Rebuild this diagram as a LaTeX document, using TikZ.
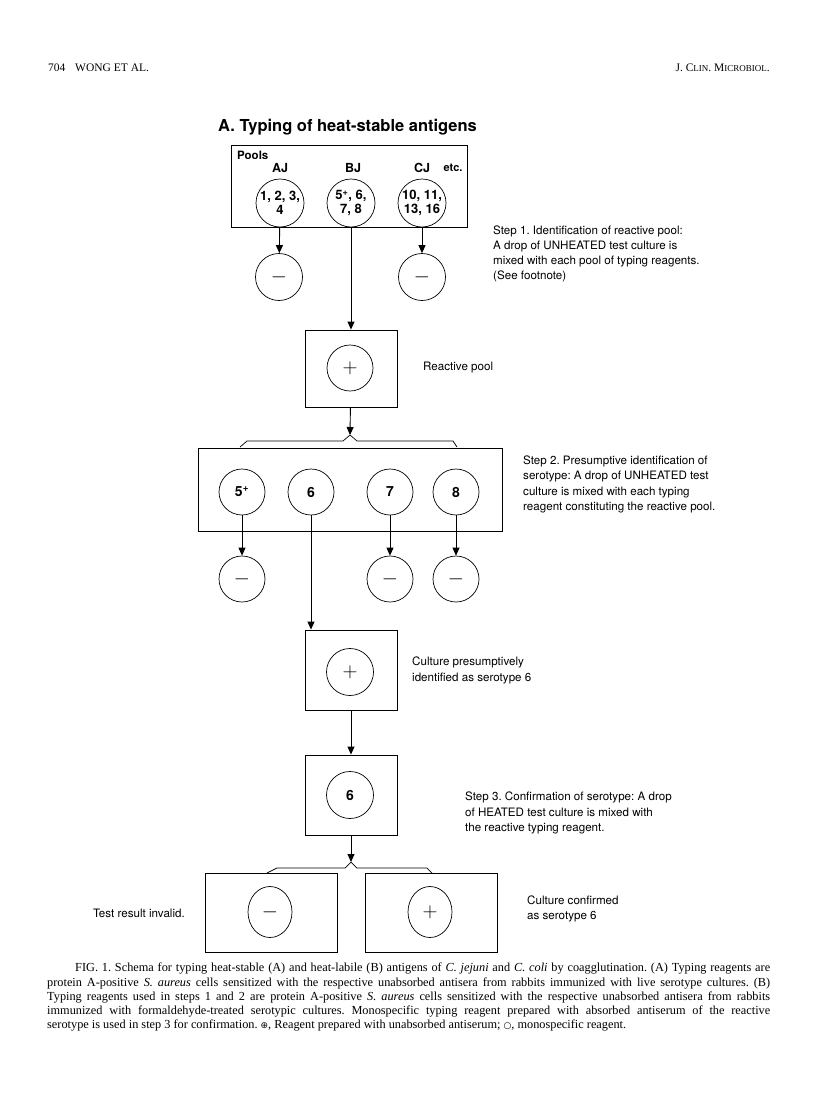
\documentclass[tikz,border=0pt]{standalone}
\usepackage{fontspec}
\setmainfont{Liberation Serif}
\newfontfamily\helv{TeX Gyre Heros}
\newfontfamily\symb{DejaVu Sans}
\usetikzlibrary{arrows.meta,positioning,shapes.geometric}
\frenchspacing

\begin{document}
\begin{tikzpicture}[x=1pt,y=-1pt,
  box/.style={draw,line width=0.9pt,inner sep=0pt},
  reag/.style={draw,circle,line width=0.7pt,minimum size=48pt,inner sep=0pt,
    align=center,font=\helv\bfseries\fontsize{13}{14}\selectfont},
  sign/.style={draw,circle,line width=0.7pt,minimum size=47pt,inner sep=0pt,
    font=\fontsize{20}{20}\selectfont},
  note/.style={anchor=west,align=left,inner sep=0pt,
    font=\helv\fontsize{11.6}{15.2}\selectfont},
  flow/.style={line width=0.9pt,-{Triangle[length=8pt,width=7pt]}},
  brace/.style={line width=0.7pt}]
  \useasboundingbox (0,0) rectangle (816,1095);
  % running head and title
  \node[anchor=west,inner sep=0pt,font=\fontsize{11.5}{13}\selectfont] (page) at (48,68) {704};
  \node[anchor=west,inner sep=0pt,font=\fontsize{11.5}{13}\selectfont] (authors) at (75,68) {WONG ET AL.};
  \node[anchor=east,inner sep=0pt,font=\fontsize{11.5}{13}\selectfont] (journal) at (770,68)
    {J. C{\fontsize{9}{10}\selectfont LIN}. M{\fontsize{9}{10}\selectfont ICROBIOL}.};
  \node[anchor=west,inner sep=0pt,font=\helv\bfseries\fontsize{16.5}{18}\selectfont] (title) at (218,127)
    {A. Typing of heat-stable antigens};

  % step 1: pools
  \node[box,minimum width=236pt,minimum height=82pt] (pools) at (349.5,186) {};
  \node[anchor=west,inner sep=0pt,font=\helv\bfseries\fontsize{11.5}{13}\selectfont] (poolslab) at (237,155) {Pools};
  \node[reag] (aj) at (280,203) {1, 2, 3,\\4};
  \node[reag] (bj) at (351,203) {5\textsuperscript{+}, 6,\\7, 8};
  \node[reag] (cj) at (422,203) {10, 11,\\13, 16};
  \node[inner sep=0pt,font=\helv\bfseries\fontsize{12.5}{14}\selectfont] (ajlab) at (280,168) {AJ};
  \node[inner sep=0pt,font=\helv\bfseries\fontsize{12.5}{14}\selectfont] (bjlab) at (353,168) {BJ};
  \node[inner sep=0pt,font=\helv\bfseries\fontsize{12.5}{14}\selectfont] (cjlab) at (422,168) {CJ};
  \node[inner sep=0pt,font=\helv\bfseries\fontsize{11}{13}\selectfont] (etc) at (453,168) {etc.};
  \node[sign] (ajneg) at (279,277) {$-$};
  \node[sign] (cjneg) at (422,277) {$-$};
  \draw[flow] (aj) -- (ajneg);
  \draw[flow] (cj) -- (cjneg);
  \node[note] (step1) at (493,254)
    {Step 1. Identification of reactive pool:\\A drop of UNHEATED test culture is\\
     mixed with each pool of typing reagents.\\(See footnote)};

  % reactive pool
  \node[box,minimum width=92pt,minimum height=77pt] (react) at (351,368.5) {};
  \node[sign,minimum size=46pt] (reactpos) at (350,368) {$+$};
  \node[note] (reactlab) at (423,368) {Reactive pool};
  \draw[flow] (bj) -- (react);

  % step 2: single reagents
  \coordinate (tip1) at (350,435);
  \draw[flow] (react) -- (tip1);
  \draw[brace] (240,447) -- (247,441) -- (343,441) -- (tip1) -- (357,441) -- (453,441) -- (457,447);
  \node[box,minimum width=304pt,minimum height=83pt] (single) at (350,489.5) {};
  \node[reag,minimum size=46pt,font=\helv\bfseries\fontsize{14}{14}\selectfont] (r5) at (242,492) {5\textsuperscript{+}};
  \node[reag,minimum size=46pt,font=\helv\bfseries\fontsize{14}{14}\selectfont] (r6) at (311,492) {6};
  \node[reag,minimum size=46pt,font=\helv\bfseries\fontsize{14}{14}\selectfont] (r7) at (390,492) {7};
  \node[reag,minimum size=46pt,font=\helv\bfseries\fontsize{14}{14}\selectfont] (r8) at (456,492) {8};
  \node[sign,minimum size=46pt] (r5neg) at (242,579) {$-$};
  \node[sign,minimum size=46pt] (r7neg) at (390,579) {$-$};
  \node[sign,minimum size=46pt] (r8neg) at (456,579) {$-$};
  \draw[flow] (r5) -- (r5neg);
  \draw[flow] (r7) -- (r7neg);
  \draw[flow] (r8) -- (r8neg);
  \node[note] (step2) at (523,484.5)
    {Step 2. Presumptive identification of\\serotype: A drop of UNHEATED test\\
     culture is mixed with each typing\\reagent constituting the reactive pool.};

  % presumptive serotype
  \node[box,minimum width=92pt,minimum height=80pt] (presum) at (351,670) {};
  \node[sign] (presumpos) at (350,672) {$+$};
  \draw[flow] (r6) -- (r6 |- presum.north);
  \node[note] (presumlab) at (412,670.5) {Culture presumptively\\identified as serotype 6};

  % step 3: confirmation
  \node[box,minimum width=92pt,minimum height=80pt] (confirm) at (351,795) {};
  \node[reag,minimum size=47pt,font=\helv\bfseries\fontsize{14}{14}\selectfont] (mono) at (350,795) {6};
  \draw[flow] (presum) -- (confirm);
  \node[note] (step3) at (465,813)
    {Step 3. Confirmation of serotype: A drop\\of HEATED test culture is mixed with\\
     the reactive typing reagent.};

  % results
  \coordinate (tip2) at (351,862);
  \draw[flow] (confirm) -- (tip2);
  \draw[brace] (267,873) -- (277,868) -- (345,868) -- (tip2) -- (357,868) -- (427,868) -- (432,873);
  \node[box,minimum width=132pt,minimum height=79pt] (invalid) at (271,912.5) {};
  \node[box,minimum width=132pt,minimum height=79pt] (valid) at (431,912.5) {};
  \node[sign,ellipse,minimum width=44pt,minimum height=51pt] (invneg) at (270,912) {$-$};
  \node[sign,ellipse,minimum width=44pt,minimum height=51pt] (valpos) at (430,912) {$+$};
  \node[note,anchor=east] (invlab) at (185,913) {Test result invalid.};
  \node[note] (vallab) at (527,909) {Culture confirmed\\as serotype 6};

  % legend
  \node[anchor=north west,inner sep=0pt,text width=723pt,align=justify,
    font=\fontsize{12.3}{14.2}\selectfont] (legend) at (47,963)
    {\hspace*{28pt}FIG. 1. Schema for typing heat-stable (A) and heat-labile (B) antigens of \textit{C. jejuni} and \textit{C. coli} by coagglutination. (A) Typing reagents are\linebreak
     protein A-positive \textit{S. aureus} cells sensitized with the respective unabsorbed antisera from rabbits immunized with live serotype cultures. (B)\linebreak
     Typing reagents used in steps 1 and 2 are protein A-positive \textit{S. aureus} cells sensitized with the respective unabsorbed antisera from rabbits\linebreak
     immunized with formaldehyde-treated serotypic cultures. Monospecific typing reagent prepared with absorbed antiserum of the reactive\linebreak
     serotype is used in step 3 for confirmation. {\symb\fontsize{9}{10}\selectfont ⊕}, Reagent prepared with unabsorbed antiserum; {\symb\fontsize{9}{10}\selectfont ○}, monospecific reagent.};
\end{tikzpicture}
\end{document}
